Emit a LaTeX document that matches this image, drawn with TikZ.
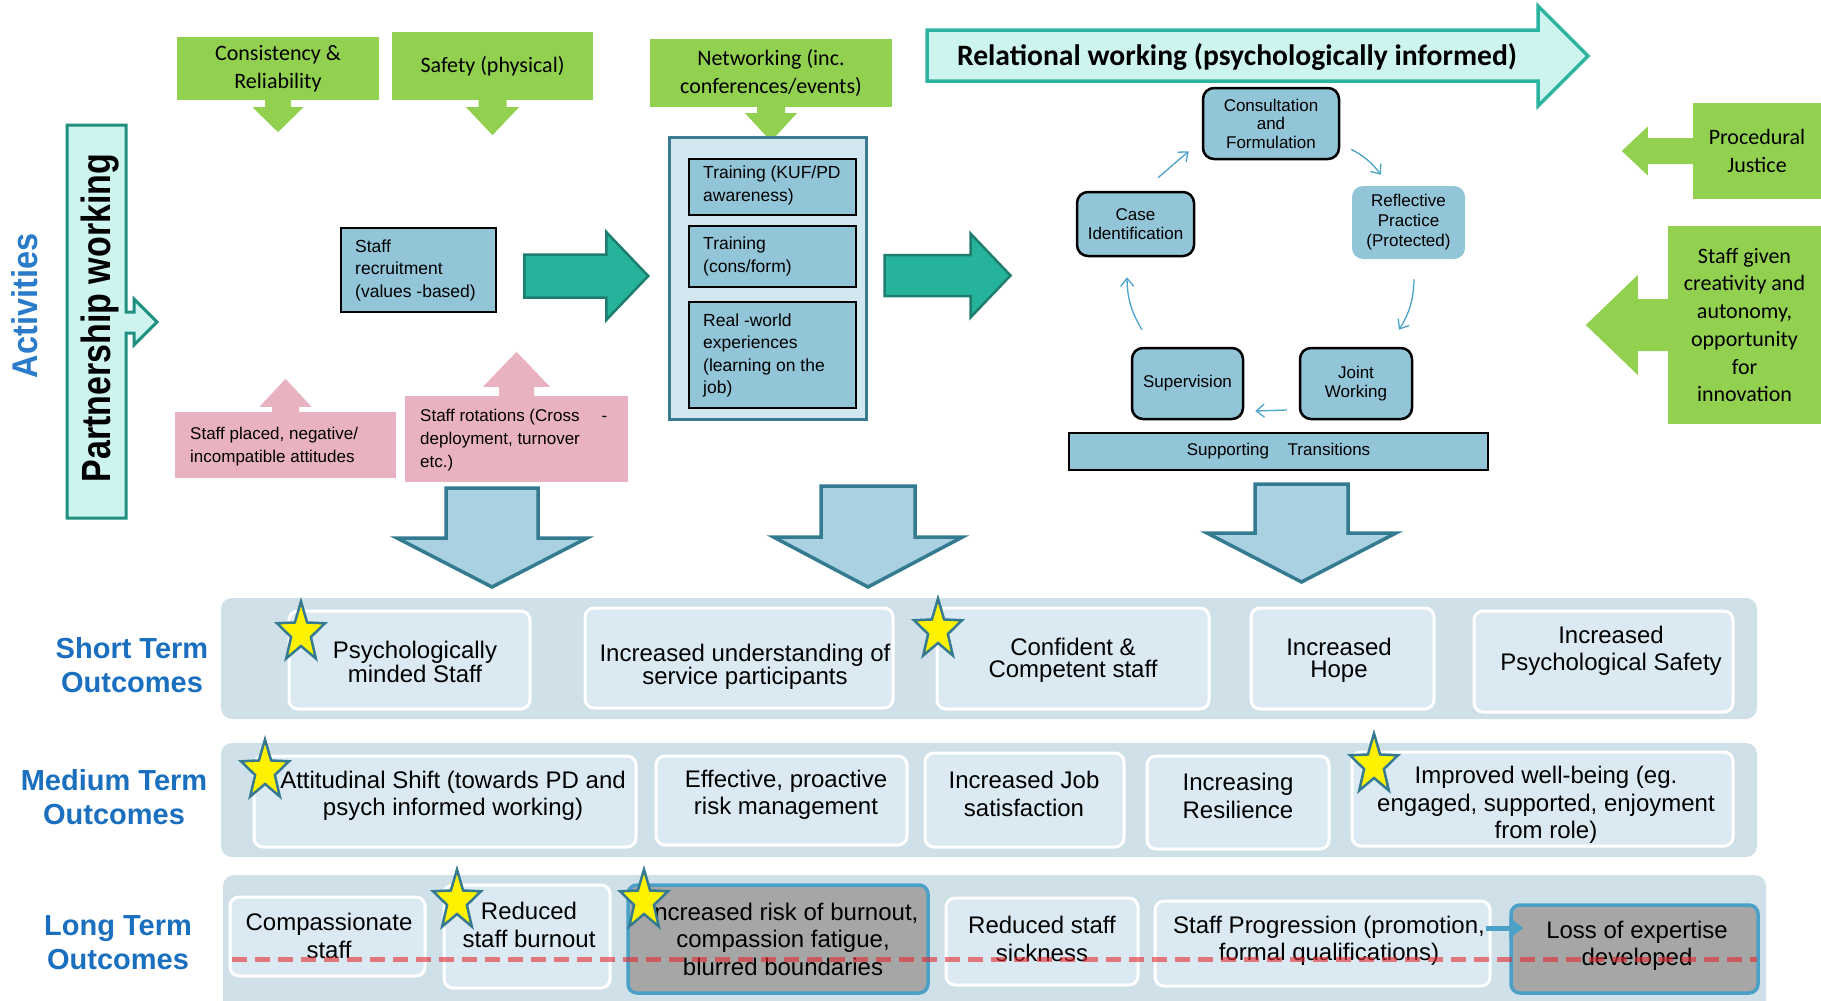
\documentclass[tikz,border=0pt]{standalone}
\usepackage{fontspec}
\setmainfont{Liberation Sans}
\newfontfamily\calib{Carlito}
\usetikzlibrary{arrows.meta,calc}

\definecolor{grn}{HTML}{92D050}
\definecolor{tealf}{HTML}{26B39C}
\definecolor{teald}{HTML}{1E7D6F}
\definecolor{mint}{HTML}{CDF4EF}
\definecolor{partline}{HTML}{1F907F}
\definecolor{bannerline}{HTML}{2BB5A1}
\definecolor{boxblue}{HTML}{92C5D8}
\definecolor{contfill}{HTML}{D2E7F0}
\definecolor{contline}{HTML}{3A7B91}
\definecolor{downfill}{HTML}{A9D1E1}
\definecolor{downline}{HTML}{347A90}
\definecolor{bandc}{HTML}{CFE0E8}
\definecolor{obfill}{HTML}{DBEAF2}
\definecolor{gboxc}{HTML}{A6A6A6}
\definecolor{gline}{HTML}{4BA0C8}
\definecolor{lblue}{HTML}{1B6FBF}
\definecolor{actblue}{HTML}{2A7BC9}
\definecolor{cycc}{HTML}{4BA3C7}
\definecolor{pinkc}{HTML}{E9B2C1}
\definecolor{starline}{HTML}{357A90}
\definecolor{dashc}{HTML}{E62A30}

\newcommand\setfs[2]{\fontsize{#1}{#2}\selectfont}
% box from corner (x1,y1) to corner (x2,y2): [style]{name}{x1}{y1}{x2}{y2}{text}
\newcommand\rect[7][]{\node[#1, minimum width={(#5)-(#3)}, minimum height={(#6)-(#4)}] (#2) at ({((#3)+(#5))/2},{((#4)+(#6))/2}) {#7};}
% vertical block arrow: [style]{base}{shaft half}{shaft length}{head half}{head length}; negative lengths point up
\newcommand\varrow[6][]{\path[#1] (#2) ++({-(#3)},0) -- ++(0,{#4}) -- ++({(#3)-(#5)},0) -- ++({#5},{#6}) -- ++({#5},{-1*(#6)}) -- ++({(#3)-(#5)},0) -- ++(0,{-1*(#4)}) -- cycle;}
% horizontal block arrow: negative lengths point left
\newcommand\harrow[6][]{\path[#1] (#2) ++(0,{-(#3)}) -- ++({#4},0) -- ++(0,{(#3)-(#5)}) -- ++({#6},{#5}) -- ++({-1*(#6)},{#5}) -- ++(0,{(#3)-(#5)}) -- ++({-1*(#4)},0) -- cycle;}

\tikzset{
  greenbox/.style={fill=grn, inner sep=0pt, align=center, font=\calib\setfs{22}{27.5}},
  pinkbox/.style={fill=pinkc, inner sep=0pt},
  bluebox/.style={fill=boxblue, draw=black, line width=2.5pt, inner sep=0pt},
  contbox/.style={fill=contfill, draw=contline, line width=3pt, inner sep=0pt},
  cycbox/.style={fill=boxblue, draw=black, line width=2.5pt, rounded corners=11pt, inner sep=0pt, align=center, font=\setfs{17}{18.5}},
  btxt/.style={inner sep=0pt, align=left, font=\setfs{17.5}{22.5}},
  ptxt/.style={inner sep=0pt, align=left, font=\setfs{17}{23}},
  tealarrow/.style={fill=tealf, draw=teald, line width=2.5pt},
  downarrow/.style={fill=downfill, draw=downline, line width=3.5pt},
  band/.style={fill=bandc, rounded corners=11pt, inner sep=0pt},
  obox/.style={fill=obfill, draw=white, line width=3pt, rounded corners=9pt, inner sep=0pt},
  gobox/.style={fill=gboxc, draw=gline, line width=3.5pt, rounded corners=9pt, inner sep=0pt},
  otxt/.style={inner sep=0pt, align=center, font=\setfs{24}{22}},
  mtxt/.style={inner sep=0pt, align=center, font=\setfs{24}{27.5}},
  lbl/.style={inner sep=0pt, align=center, text=lblue, font=\bfseries\setfs{29}{34}},
  cycarrow/.style={draw=cycc, line width=1.3pt, -{Straight Barb[length=8pt,width=13pt]}},
  progarrow/.style={draw=gline, line width=5pt, -{Triangle[length=14pt,width=20pt]}},
  riskline/.style={draw=dashc, draw opacity=0.6, line width=5pt, dash pattern=on 15pt off 8pt},
  pics/goldstar/.style={code={
    \draw[fill=yellow, draw=starline, line width=2.5pt, xscale=0.8]
      (90:31.5pt) -- (126:13pt) -- (162:31.5pt) -- (198:13pt) -- (234:31.5pt) -- (270:13pt)
      -- (306:31.5pt) -- (342:13pt) -- (18:31.5pt) -- (54:13pt) -- cycle;}}
}

\begin{document}
\begin{tikzpicture}[x=1pt,y=-1pt,line join=miter]
\useasboundingbox (0,0) rectangle (1821,1001);
\fill[white] (0,0) rectangle (1821,1001);

% ---- side titles ----
\node[rotate=90, inner sep=0pt, text=actblue, font=\bfseries\setfs{32.5}{34}] (activities) at (25,306) {\scalebox{1}[1.1]{Activities}};
\draw[fill=mint, draw=partline, line width=3pt]
  (67,125) -- (126,125) -- (126,312) -- (134,312) -- (134,299) -- (157,322) -- (134,345)
  -- (134,333) -- (126,333) -- (126,518) -- (67,518) -- cycle;
\node[rotate=90, inner sep=0pt, font=\bfseries\setfs{34}{36}] (partner) at (100,318) {\scalebox{1}[1.2]{Partnership working}};

% ---- green influences ----
\rect[greenbox]{consis}{177}{37}{379}{100}{Consistency \&\\Reliability}
\rect[greenbox]{safety}{392}{32}{593}{100}{Safety (physical)}
\rect[greenbox]{netw}{650}{39}{892}{107}{Networking (inc.\\conferences/events)}
\varrow[fill=grn]{[yshift=1pt]consis.south}{13}{8}{25.5}{25}
\varrow[fill=grn]{[yshift=1pt]safety.south}{14}{8}{26.5}{28}
\varrow[fill=grn]{[yshift=1pt]netw.south}{14}{7}{26}{28}

\rect[greenbox]{proc}{1693}{103}{1821}{199}{Procedural\\Justice}
\rect[greenbox, font=\calib\setfs{22}{27.7}]{creat}{1668}{226}{1821}{424}{Staff given\\creativity and\\autonomy,\\opportunity\\for\\innovation}
\harrow[fill=grn]{[xshift=1pt]proc.west}{13}{-46}{24.5}{-26}
\harrow[fill=grn]{[xshift=1pt]creat.west}{26}{-31}{50}{-52}

% ---- pink barriers ----
\rect[pinkbox]{placed}{175}{412}{396}{478}{}
\node[ptxt, anchor=west] (placed-t) at (190,446.5) {Staff placed, negative/\\incompatible attitudes};
\varrow[fill=pinkc]{[yshift=-1pt]placed.north}{13.5}{-6}{26}{-28}
\rect[pinkbox]{rotat}{405}{396}{628}{482}{}
\node[ptxt, anchor=west] (rotat-t) at (420,440) {Staff rotations (Cross\hspace{1.3em}-\\deployment, turnover\\etc.)};
\varrow[fill=pinkc]{[yshift=-1pt]rotat.north}{17.5}{-10}{33.5}{-35}

% ---- recruitment and training ----
\rect[bluebox]{recruit}{341}{228}{496}{312}{}
\node[btxt, anchor=west] (recruit-t) at (355,270) {Staff\\recruitment\\(values -based)};
\harrow[tealarrow]{[xshift=27pt,yshift=-6pt]recruit.east}{21.5}{82}{44}{42}

\rect[contbox]{cont}{669}{137}{866}{419}{}
\rect[bluebox]{kuf}{689}{159}{856}{215}{}
\node[btxt, anchor=west] (kuf-t) at (703,185.5) {Training (KUF/PD\\awareness)};
\rect[bluebox]{consf}{689}{226}{856}{287}{}
\node[btxt, anchor=west] (consf-t) at (703,256.5) {Training\\(cons/form)};
\rect[bluebox]{realw}{689}{302}{856}{408}{}
\node[btxt, anchor=west] (realw-t) at (703,355.5) {Real -world\\experiences\\(learning on the\\job)};
\harrow[tealarrow]{[xshift=17pt,yshift=2.5pt]cont.east}{20.5}{86}{42}{40}

% ---- relational working ----
\draw[fill=mint, draw=bannerline, line width=3.5pt]
  (927,30) -- (1538,30) -- (1538,6) -- (1588,56) -- (1538,106) -- (1538,81) -- (927,81) -- cycle;
\node[inner sep=0pt, font=\calib\bfseries\setfs{29.6}{30}] (relational) at (1237,57) {Relational working (psychologically informed)};

\rect[cycbox]{consult}{1203}{88}{1339}{159}{Consultation\\and\\Formulation}
\rect[cycbox]{caseid}{1077}{192}{1194}{256}{Case\\Identification}
\rect[cycbox, draw=none, font=\setfs{17}{20}]{reflect}{1352}{186}{1465}{259}{Reflective\\Practice\\(Protected)}
\rect[cycbox]{superv}{1132}{348}{1243}{419}{Supervision}
\rect[cycbox, font=\setfs{17}{19}]{joint}{1300}{348}{1412}{419}{Joint\\Working}
\rect[bluebox, font=\setfs{17}{18}]{support}{1069}{433}{1488}{470}{Supporting\hspace{1.1em}Transitions}

\draw[cycarrow] ([xshift=22.5pt,yshift=13pt]caseid.north) -- ([xshift=-13pt,yshift=9pt]consult.south west);
\draw[cycarrow] ([xshift=11pt,yshift=11pt]consult.south east) to[bend left=12] ([xshift=-27.5pt,yshift=10pt]reflect.north);
\draw[cycarrow] ([xshift=5.5pt,yshift=-19pt]reflect.south) to[bend left=15] ([xshift=43pt,yshift=17pt]joint.north);
\draw[cycarrow] ([xshift=-12pt,yshift=-26.5pt]joint.west) -- ([xshift=11pt,yshift=-27.5pt]superv.east);
\draw[cycarrow] ([xshift=-45.5pt,yshift=17pt]superv.north) to[bend left=15] ([xshift=-8.5pt,yshift=-20pt]caseid.south);

% ---- arrows into the outcomes ----
\coordinate (d1) at (492,488);
\coordinate (d2) at (868,486);
\coordinate (d3) at (1301.5,484);
\varrow[downarrow]{d1}{46}{50}{95}{49}
\varrow[downarrow]{d2}{47}{51}{94.5}{50}
\varrow[downarrow]{d3}{46.5}{49}{94.5}{49}

% ---- outcome bands ----
\rect[band]{bandS}{221}{598}{1757}{719}{}
\rect[band]{bandM}{221}{743}{1757}{857}{}
\rect[band]{bandL}{223}{875}{1766}{1025}{}
\node[lbl] (lblS) at (132,665.5) {Short Term\\Outcomes};
\node[lbl] (lblM) at (114,797.5) {Medium Term\\Outcomes};
\node[lbl] (lblL) at (118,942.5) {Long Term\\Outcomes};

% short term
\rect[obox]{s1}{289}{611}{530}{709}{}
\node[otxt] (s1-t) at (415,662) {Psychologically\\minded Staff};
\rect[obox]{s2}{585}{608}{893}{708}{}
\node[otxt] (s2-t) at (745,667) {Increased understanding of\\service participants};
\rect[obox]{s3}{937}{608}{1209}{709}{}
\node[otxt] (s3-t) at (1073,660) {Confident \&\\Competent staff};
\rect[obox]{s4}{1251}{608}{1434}{709}{}
\node[otxt] (s4-t) at (1339,660) {Increased\\Hope};
\rect[obox]{s5}{1474}{611}{1733}{712}{}
\node[mtxt] (s5-t) at (1611,651) {Increased\\Psychological Safety};

% medium term
\rect[obox]{m1}{254}{756}{636}{847}{}
\node[mtxt] (m1-t) at (453,796) {Attitudinal Shift (towards PD and\\psych informed working)};
\rect[obox]{m2}{656}{756}{907}{845}{}
\node[mtxt] (m2-t) at (786,795) {Effective, proactive\\risk management};
\rect[obox]{m3}{925}{753}{1124}{847}{}
\node[mtxt] (m3-t) at (1024,794) {Increased Job\\satisfaction};
\rect[obox]{m4}{1147}{756}{1329}{849}{}
\node[mtxt] (m4-t) at (1238,796) {Increasing\\Resilience};
\rect[obox]{m5}{1352}{752}{1733}{846}{}
\node[mtxt] (m5-t) at (1546,805) {Improved well-being (eg.\\engaged, supported, enjoyment\\from role)};

% long term
\rect[obox]{l1}{230}{897}{425}{976}{}
\node[mtxt] (l1-t) at (329,936) {Compassionate\\staff};
\rect[obox]{l2}{444}{885}{610}{988}{}
\node[mtxt] (l2-t) at (529,925) {Reduced\\staff burnout};
\rect[gobox]{risk}{628}{885}{928}{993}{}
\node[mtxt] (risk-t) at (783,939) {Increased risk of burnout,\\compassion fatigue,\\blurred boundaries};
\rect[obox]{l4}{946}{898}{1138}{985}{}
\node[mtxt] (l4-t) at (1042,939) {Reduced staff\\sickness};
\rect[obox]{prog}{1155}{901}{1490}{986}{}
\node[mtxt] (prog-t) at (1329,941) {Staff Progression (promotion,\\formal qualifications)};
\rect[gobox]{loss}{1511}{905}{1758}{993}{}
\node[mtxt] (loss-t) at (1637,946) {Loss of expertise\\developed};
\draw[progarrow] ([xshift=-6pt,yshift=15.5pt]prog.east) -- ([xshift=14pt,yshift=21pt]loss.west);

% dashed threshold across the long-term row
\coordinate (dashL) at (232,959);
\coordinate (dashR) at (1757,959);
\draw[riskline] (dashL) -- (dashR);

% stars
\pic at (301,633) {goldstar};
\pic at (938,630) {goldstar};
\pic at (265,771) {goldstar};
\pic at (1374,765) {goldstar};
\pic at (457,901) {goldstar};
\pic at (644,901) {goldstar};
\end{tikzpicture}
\end{document}
